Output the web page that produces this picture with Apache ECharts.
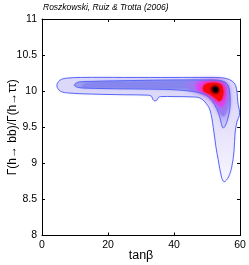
<!DOCTYPE html>
<html><head><meta charset="utf-8">
<script src="https://cdn.jsdelivr.net/npm/echarts@6/dist/echarts.min.js"></script>
<style>html,body{margin:0;padding:0;background:#fff}#c{width:249px;height:265px}</style>
</head><body><div id="c"></div>
<script>
const titleText = 'Roszkowski, Ruiz & Trotta (2006)';
const xName = 'tanβ';
const yName = 'Γ(h→ bb)/Γ(h→ττ)';
const xTicks = [0, 20, 40, 60];
const yTicks = [8, 8.5, 9, 9.5, 10, 10.5, 11];

// outer (95%) contour
const outerContour = [[4.5,10.075],[5.4,10.15],[7.5,10.18],[12,10.19],[25,10.19],[40,10.19],[50,10.19],[54.5,10.185],[56.8,10.16],[58.3,10.11],[58.9,10.04],[59.2,9.93],[59.4,9.82],[59.8,9.74],[59.8,9.66],[59.1,9.58],[58.5,9.42],[58.2,9.18],[57.5,8.95],[56.5,8.81],[55.2,8.745],[54.4,8.81],[53.4,9.05],[52.7,9.23],[51.9,9.5],[50.9,9.74],[49.4,9.85],[47.9,9.905],[46,9.92],[40,9.925],[36,9.925],[35.3,9.915],[34.9,9.88],[34.2,9.865],[33.6,9.885],[33.2,9.93],[32,9.945],[25,9.95],[15,9.96],[8,9.975],[5.6,10.0]];
// inner (68%) contour
const innerContour = [[9.8,10.085],[11,10.125],[15,10.135],[25,10.145],[40,10.155],[50,10.155],[53.5,10.15],[55.5,10.12],[56.5,10.07],[57.0,9.9],[56.9,9.75],[56.2,9.6],[55.5,9.52],[54.9,9.49],[54.3,9.56],[53.9,9.64],[52.9,9.76],[51.5,9.87],[49.9,9.94],[48,9.975],[46,9.995],[40,10.02],[30,10.03],[20,10.035],[12,10.045],[10.4,10.06]];
// density levels (filled regions)
const bandCore = [[12,10.06],[14,10.115],[30,10.13],[45,10.14],[48,10.13],[48,10.05],[30,10.045],[14,10.05]];
const cornerPurple = [[44,10.12],[48,10.15],[53,10.155],[55.5,10.13],[56.5,10.05],[56.8,9.9],[56.2,9.75],[55,9.65],[53.8,9.7],[52.5,9.82],[50,9.93],[46,10.0],[44,10.04]];
const magentaZone = [[47,10.11],[50,10.14],[53,10.14],[55.2,10.1],[55.8,10.0],[55.5,9.87],[54.6,9.78],[53.6,9.8],[52,9.88],[49.5,9.97],[47,10.02]];
const redZone = [[48.8,10.06],[50,10.105],[52.5,10.115],[54.4,10.085],[55.0,10.0],[54.6,9.9],[53.7,9.86],[52.6,9.9],[50.6,9.965],[49,10.0]];
const darkZone = [[51.2,10.04],[52,10.075],[53.1,10.07],[53.7,10.02],[53.3,9.975],[52.3,9.97],[51.5,9.99]];
const blackZone = [[51.9,10.03],[52.4,10.055],[53.1,10.045],[53.3,10.01],[52.8,9.99],[52.2,9.995]];

const G = echarts.graphic;
function poly(points, style, z, smooth) {
  return {
    type: 'custom', coordinateSystem: 'cartesian2d', xAxisIndex: 0, yAxisIndex: 0,
    silent: true, z: z, clip: true,
    data: [points[0]],
    renderItem: function (params, api) {
      return {
        type: 'polygon',
        shape: { points: points.map(function (p) { return api.coord(p); }), smooth: smooth == null ? 0.35 : smooth },
        style: style
      };
    }
  };
}
const series = [
  poly(outerContour, { fill: new G.LinearGradient(0, 0, 0, 1, [
    { offset: 0, color: '#dcd8f9' }, { offset: 0.22, color: '#dcd8f9' },
    { offset: 0.5, color: '#e6e2fb' }, { offset: 1, color: '#f7f6fe' }]), shadowBlur: 3, shadowColor: '#e4e0fb' }, 2),
  poly(innerContour, { fill: new G.LinearGradient(0, 0, 0, 1, [
    { offset: 0, color: '#9c9cf2' }, { offset: 0.3, color: '#a0a0f2' },
    { offset: 0.7, color: '#b8b0f5' }, { offset: 1, color: '#d2ccf8' }]), shadowBlur: 3, shadowColor: '#c0bcf6' }, 3),
  poly(bandCore, { fill: '#8686ee', shadowBlur: 3, shadowColor: '#8686ee' }, 4),
  poly(cornerPurple, { fill: '#9a7cf2', shadowBlur: 5, shadowColor: '#9a7cf2' }, 5),
  poly(magentaZone, { fill: '#dd44f0', shadowBlur: 5, shadowColor: '#dd44f0' }, 6),
  poly(redZone, { fill: '#f80808', shadowBlur: 4, shadowColor: '#ff1010' }, 7),
  poly(darkZone, { fill: '#700000', shadowBlur: 3, shadowColor: '#900000' }, 8),
  poly(blackZone, { fill: '#000000', shadowBlur: 2, shadowColor: '#200000' }, 9),
  poly(outerContour, { fill: 'none', stroke: '#5866f6', lineWidth: 1 }, 10),
  poly(innerContour, { fill: 'none', stroke: '#5866f6', lineWidth: 1 }, 10)
];

const font = 'Liberation Sans, Arial, sans-serif';
const chart = echarts.init(document.getElementById('c'), null, { renderer: 'canvas' });
const axCommon = {
  type: 'value', splitLine: { show: false },
  axisLine: { show: true, onZero: false, lineStyle: { color: '#000', width: 1 } },
  axisTick: { show: true, inside: true, length: 3, lineStyle: { color: '#000', width: 1 } }
};
chart.setOption({
  animation: false,
  backgroundColor: '#fff',
  title: { text: titleText, left: 43, top: 3, padding: 0,
    textStyle: { fontSize: 8.5, fontStyle: 'italic', fontWeight: 'normal', color: '#000', fontFamily: font } },
  grid: { left: 42, top: 19, width: 198, height: 216.5, containLabel: false, outerBoundsMode: 'none' },
  xAxis: [
    Object.assign({}, axCommon, { position: 'bottom', min: xTicks[0], max: xTicks[xTicks.length - 1], interval: 20,
      axisLabel: { color: '#000', fontSize: 10.5, margin: 4, fontFamily: font },
      name: xName, nameLocation: 'middle', nameGap: 14, nameMoveOverlap: false,
      nameTextStyle: { color: '#000', fontSize: 12.5, fontFamily: font } }),
    Object.assign({}, axCommon, { position: 'top', min: xTicks[0], max: xTicks[xTicks.length - 1], interval: 20,
      axisLabel: { show: false } })
  ],
  yAxis: [
    Object.assign({}, axCommon, { position: 'left', min: yTicks[0], max: yTicks[yTicks.length - 1], interval: 0.5,
      axisLabel: { color: '#000', fontSize: 10.5, margin: 5, fontFamily: font },
      name: yName, nameLocation: 'middle', nameGap: 23, nameMoveOverlap: false,
      nameTextStyle: { color: '#000', fontSize: 12, fontFamily: font } }),
    Object.assign({}, axCommon, { position: 'right', min: yTicks[0], max: yTicks[yTicks.length - 1], interval: 0.5,
      axisLabel: { show: false } })
  ],
  series: series
});
</script></body></html>
